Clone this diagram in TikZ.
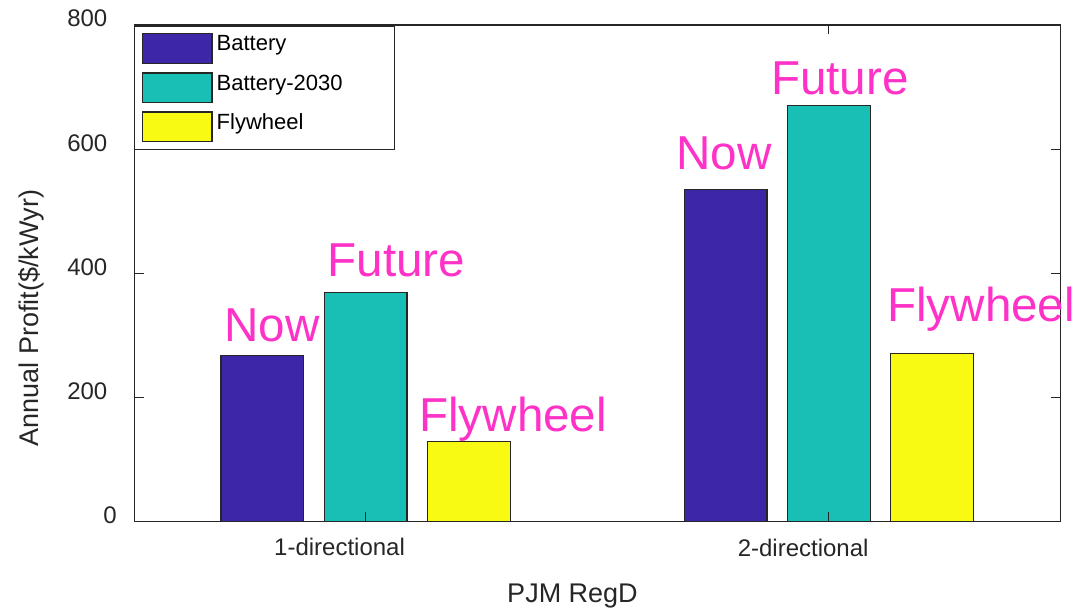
\documentclass[tikz,border=0pt]{standalone}
\usepackage{fontspec}
\setmainfont{Liberation Sans}
\usepackage{tikz}
\usetikzlibrary{positioning}

\definecolor{battcol}{RGB}{62,38,168}
\definecolor{futcol}{RGB}{25,190,180}
\definecolor{flycol}{RGB}{249,250,20}
\definecolor{annotcol}{RGB}{255,50,200}
\definecolor{axcol}{RGB}{38,38,38}

\begin{document}
\begin{tikzpicture}[
    x=1pt, y=-1pt,
    % Define the styles
    barbox/.style={draw=black!85, line width=1.1pt},
    axline/.style={draw=axcol, line width=1.1pt},
    annot/.style={text=annotcol, inner sep=0pt, anchor=base west, font=\fontsize{47.6}{52}\selectfont},
    ticklab/.style={text=axcol, inner sep=0pt, font=\fontsize{24}{28}\selectfont},
    axlab/.style={text=axcol, inner sep=0pt, anchor=base, font=\fontsize{27}{30}\selectfont},
    legtext/.style={text=black, inner sep=0pt, anchor=base west, font=\fontsize{22}{26}\selectfont}
]
    \useasboundingbox (0,0) rectangle (1076,610);

    % plot area, values upwards from the zero line
    \begin{scope}[shift={(0,521.7)}, y=0.6209pt]
        % bars
        \foreach \g/\a/\b/\c in {365.6/267/369/129, 828.8/535/670/271} {
            \path[barbox, fill=battcol] (\g-144.6,0) rectangle (\g-61.8,\a);
            \path[barbox, fill=futcol] (\g-41.4,0) rectangle (\g+41.4,\b);
            \path[barbox, fill=flycol] (\g+61.8,0) rectangle (\g+144.6,\c);
        }

        % axes box and ticks
        \draw[axline] (134.5,0) rectangle (1060.7,800);
        \foreach \v/\x in {0/116.9, 200/107.5, 400/107.5, 600/107.5, 800/107.5} {
            \draw[axline] (134.5,\v) -- ++(9.5pt,0pt);
            \draw[axline] (1060.7,\v) -- ++(-9.5pt,0pt);
            \node[ticklab, anchor=base east, yshift=-2pt] (ytick\v) at (\x,\v) {\v};
        }
        \foreach \g in {365.6, 828.8} {
            \draw[axline] (\g,0) -- ++(0pt,9.5pt);
            \draw[axline] (\g,800) -- ++(0pt,-9.5pt);
        }
    \end{scope}

    % group and axis labels
    \node[ticklab, anchor=base west] (grp1) at (274,555) {1-directional};
    \node[ticklab, anchor=base west] (grp2) at (737.6,556) {2-directional};
    \node[axlab] (xlab) at (572.5,602.7) {PJM RegD};
    \node[axlab, rotate=90] (ylab) at (38.3,318) {Annual Profit(\$/kWyr)};

    % legend
    \draw[draw=axcol, line width=0.9pt, fill=white] (134.5,26) rectangle (394.7,149.7);
    \foreach \c/\t/\yy [count=\n] in {battcol/Battery/33.7, futcol/Battery-2030/73, flycol/Flywheel/112} {
        \path[barbox, fill=\c] (142.3,\yy) rectangle (212,\yy+29.8);
        \node[legtext] (leg\n) at (216.5,\yy+17) {\t};
    }

    % annotations
    \node[annot] (now1) at (224,341.7) {Now};
    \node[annot] (fut1) at (327.5,276.7) {Future};
    \node[annot] (fly1) at (419,431.7) {Flywheel};
    \node[annot] (now2) at (676,169.3) {Now};
    \node[annot] (fut2) at (771,94.3) {Future};
    \node[annot] (fly2) at (887,321.7) {Flywheel};

\end{tikzpicture}
\end{document}
